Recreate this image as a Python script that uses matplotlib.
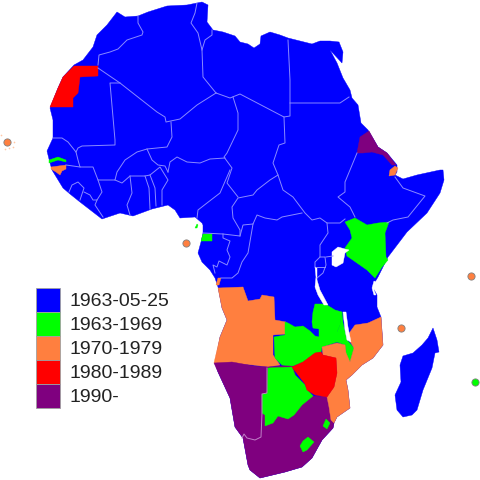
import matplotlib
matplotlib.use('Agg')
import matplotlib.pyplot as plt
from matplotlib.patches import Polygon, Rectangle

BLUE = '#0000ff'
GREEN = '#00ff00'
ORANGE = '#ff7f3f'
RED = '#ff0000'
PURPLE = '#7f007f'
BORDER = '#8a8aff'

# Outlines, in image pixels
continent = [(74, 65), (83, 60), (93, 47), (97, 35), (107, 25), (117, 12), (125, 17), (138, 16),
             (148, 12), (167, 6), (187, 5), (202, 2), (208, 5), (207, 22), (213, 30), (223, 32),
             (235, 36), (240, 42), (248, 44), (254, 48), (260, 44), (261, 36), (270, 32), (280, 35),
             (288, 38), (300, 41), (312, 44), (320, 41), (330, 41), (339, 42), (343, 52), (342, 63),
             (330, 50), (337, 63), (343, 78), (350, 90), (352, 98), (358, 105), (361, 123), (368, 130),
             (378, 147), (387, 153), (397, 165), (397, 172), (395, 175), (403, 179), (417, 175),
             (440, 170), (443, 170), (444, 180), (440, 193), (427, 213), (407, 232), (388, 257),
             (378, 277), (375, 282), (373, 288), (377, 295), (377, 307), (381, 317), (383, 345),
             (373, 358), (362, 365), (352, 375), (346, 380), (348, 390), (350, 408), (337, 417),
             (334, 423), (333, 428), (322, 440), (312, 458), (302, 467), (285, 472), (260, 478),
             (250, 470), (248, 465), (243, 438), (235, 427), (230, 398), (218, 372), (215, 363),
             (220, 337), (227, 320), (222, 308), (218, 287), (215, 278), (210, 270), (202, 262),
             (198, 253), (201, 242), (203, 233), (203, 225), (202, 223), (195, 217), (180, 218),
             (175, 210), (168, 205), (152, 209), (133, 216), (120, 213), (102, 219), (80, 202),
             (70, 194), (63, 188), (52, 170), (50, 163), (47, 151), (53, 138), (53, 120), (50, 108),
             (58, 88), (63, 77)]
madagascar = [(433, 328), (437, 340), (439, 352), (435, 353), (432, 368), (423, 390), (417, 410),
              (412, 415), (403, 417), (397, 410), (395, 395), (401, 382), (400, 365), (403, 356),
              (413, 353), (422, 345), (428, 338)]

western_sahara = [(74, 66), (98, 66), (98, 76), (80, 77), (78, 93), (73, 98), (73, 107), (50, 107),
                  (58, 88), (63, 77)]
eritrea = [(369, 131), (378, 147), (387, 153), (396, 165), (392, 165), (383, 155), (372, 152),
           (363, 153), (357, 153), (360, 137)]
djibouti = [(395, 166), (398, 168), (395, 175), (389, 176), (390, 170)]
gambia = [(49, 160), (58, 157), (66, 160), (66, 162), (58, 160), (49, 163)]
guinea_bissau = [(51, 167), (66, 165), (66, 169), (62, 171), (60, 175), (56, 172), (51, 169)]
eq_guinea = [(201, 241), (212, 241), (212, 234), (203, 234)]
bioko = [(195, 228), (197, 224), (198, 225), (197, 228)]
cabinda = [(216, 285), (218, 278), (221, 278), (219, 285)]
angola = [(218, 288), (243, 287), (248, 301), (260, 299), (262, 295), (274, 297), (275, 320),
          (286, 322), (286, 334), (273, 335), (273, 355), (280, 365), (268, 367), (253, 365),
          (240, 364), (214, 363), (220, 337), (227, 320), (222, 308)]
zambia = [(285, 322), (288, 323), (295, 327), (303, 326), (310, 331), (315, 336), (319, 337),
          (319, 329), (313, 328), (312, 322), (313, 312), (315, 304), (323, 304), (327, 305),
          (335, 310), (342, 312), (340, 325), (337, 332), (337, 342), (322, 347), (321, 352),
          (315, 353), (303, 362), (293, 366), (282, 365), (275, 358), (274, 337), (285, 335)]
malawi = [(342, 312), (343, 323), (347, 340), (354, 348), (352, 355), (350, 362), (346, 355),
          (345, 345), (337, 342), (337, 332), (340, 325)]
zimbabwe = [(292, 367), (303, 362), (315, 353), (321, 352), (323, 355), (336, 358), (337, 373),
            (334, 387), (327, 397), (315, 395), (307, 390), (305, 384)]
mozambique = [(381, 317), (368, 323), (355, 325), (350, 332), (348, 338), (354, 348), (350, 362),
              (346, 353), (345, 345), (337, 343), (322, 347), (323, 355), (336, 358), (337, 373),
              (334, 387), (327, 397), (329, 407), (331, 420), (334, 423), (337, 417), (350, 408),
              (348, 390), (346, 380), (352, 375), (362, 365), (373, 358), (383, 345)]
southern_purple = [(214, 363), (232, 362), (254, 366), (268, 367), (292, 365), (296, 376), (313, 396),
                   (327, 397), (330, 413), (331, 420), (334, 423), (333, 428), (322, 440), (312, 458),
                   (302, 467), (285, 472), (260, 478), (250, 470), (248, 465), (243, 438), (235, 427),
                   (230, 398), (218, 372)]
botswana = [(268, 368), (292, 367), (295, 375), (305, 385), (307, 390), (313, 396), (302, 405),
            (294, 415), (288, 419), (278, 416), (273, 423), (265, 426), (265, 415), (262, 413),
            (262, 394), (267, 393)]
swaziland = [(326, 419), (330, 423), (327, 429), (323, 426)]
lesotho = [(308, 437), (314, 442), (307, 450), (303, 452), (300, 446), (303, 441)]
kenya = [(345, 222), (355, 218), (367, 225), (378, 223), (389, 222), (385, 233), (386, 257),
         (388, 260), (382, 267), (375, 278), (367, 270), (347, 256), (345, 248), (352, 238), (350, 230)]

lake_victoria = [(332, 252), (338, 247), (345, 249), (349, 250), (345, 253), (343, 263), (336, 267),
                 (332, 265)]
lake_tanganyika = [(315, 267), (317, 268), (317, 280), (320, 290), (328, 305), (324, 305), (318, 295),
                   (315, 287), (316, 277)]
lake_malawi = [(343, 312), (346, 312), (348, 327), (351, 342), (347, 340), (345, 330)]
zanzibar_channel = [(374, 281), (376, 282), (374, 290), (376, 295), (374, 295), (372, 288)]

country_fills = [(western_sahara, RED), (eritrea, PURPLE), (djibouti, ORANGE), (gambia, GREEN),
                 (guinea_bissau, ORANGE), (eq_guinea, GREEN), (bioko, GREEN), (cabinda, ORANGE),
                 (angola, ORANGE), (southern_purple, PURPLE), (zambia, GREEN), (malawi, GREEN),
                 (mozambique, ORANGE), (botswana, GREEN), (zimbabwe, RED), (swaziland, GREEN),
                 (lesotho, GREEN), (kenya, GREEN)]

borders = [
    [(98, 65), (99, 55), (110, 52), (118, 49), (127, 40), (142, 35), (143, 32), (138, 23), (138, 16)],
    [(98, 68), (120, 83), (157, 112), (165, 117), (166, 122), (180, 119), (197, 105), (216, 93)],
    [(216, 93), (203, 77), (202, 50), (205, 40), (212, 35), (212, 30)],
    [(202, 50), (198, 33), (191, 23), (195, 13), (197, 3)],
    [(216, 93), (230, 98), (240, 94), (284, 117), (290, 116), (290, 80), (288, 40)],
    [(290, 103), (340, 103), (349, 97)],
    [(233, 97), (238, 113), (238, 130), (227, 153), (224, 157), (232, 168), (227, 183), (238, 197)],
    [(284, 117), (285, 143), (279, 145), (273, 163), (278, 175), (283, 190), (293, 197), (305, 213),
     (312, 220), (320, 218), (327, 223), (340, 223), (345, 219)],
    [(278, 175), (270, 180), (257, 190), (253, 195), (238, 198), (232, 207), (233, 218), (240, 230), (240, 236)],
    [(230, 170), (220, 193), (207, 203), (198, 210), (197, 218)],
    [(203, 233), (223, 234), (240, 236), (243, 225), (253, 224), (257, 215), (265, 218), (277, 220),
     (282, 217), (302, 213)],
    [(253, 224), (248, 253), (242, 262), (238, 273), (232, 278), (223, 278), (221, 278)],
    [(223, 234), (223, 238), (230, 241), (227, 250), (230, 257), (227, 265), (219, 261), (217, 267),
     (213, 265), (215, 273)],
    [(357, 153), (350, 170), (345, 182), (345, 192), (338, 197), (350, 207), (355, 217)],
    [(395, 177), (403, 188), (425, 196), (408, 217), (393, 220), (387, 223)],
    [(327, 223), (328, 233), (320, 245), (320, 257), (315, 262), (315, 267)],
    [(320, 257), (325, 257), (326, 265), (323, 273), (317, 278)],
    [(316, 267), (325, 267)],
    [(326, 257), (333, 256)],
    [(120, 83), (110, 83), (115, 140), (115, 145), (82, 146), (78, 148), (76, 152), (78, 160), (80, 167),
     (93, 167), (98, 180), (110, 180), (115, 180), (117, 172), (125, 160), (137, 152), (147, 149),
     (167, 147), (172, 137), (171, 122)],
    [(76, 152), (68, 142), (62, 138), (53, 138)],
    [(80, 167), (66, 165)],
    [(147, 149), (152, 160), (158, 165), (165, 166), (168, 172)],
    [(115, 180), (122, 183), (130, 176), (145, 176), (150, 175), (160, 167), (168, 180), (162, 190), (162, 205)],
    [(130, 176), (132, 193), (127, 205), (130, 215)],
    [(145, 176), (149, 188), (150, 209)],
    [(150, 175), (155, 188), (156, 206)],
    [(168, 172), (170, 162), (177, 157), (187, 162), (200, 163), (210, 159), (225, 158)],
    [(69, 192), (72, 185), (78, 182), (84, 188), (80, 200)],
    [(84, 192), (90, 195), (93, 200), (97, 200), (102, 192), (98, 180)],
    [(97, 200), (95, 205), (103, 217)],
]
pale_borders = [[(267, 368), (267, 393), (262, 394), (262, 413), (261, 437), (255, 440), (247, 438),
                 (244, 434), (242, 438)]]

# Island states as dots: x, y, colour
island_dots = [(6.7, 142, ORANGE), (185.5, 242.5, ORANGE), (470.7, 275.7, ORANGE),
               (400.7, 327.7, ORANGE), (475, 381.7, GREEN)]
cape_verde_specks = [(1, 135), (14, 142), (5, 149), (9, 148), (13, 147)]

legend_labels = ['1963-05-25', '1963-1969', '1970-1979', '1980-1989', '1990-']
legend_colors = [BLUE, GREEN, ORANGE, RED, PURPLE]

plt.rcParams['font.family'] = ['Liberation Sans', 'DejaVu Sans']

fig = plt.figure(figsize=(4.8, 4.8), dpi=100)
ax = fig.add_axes([0, 0, 1, 1])
ax.set_xlim(0, 480)
ax.set_ylim(480, 0)
ax.axis('off')

for shape in [continent, madagascar]:
    ax.add_patch(Polygon(shape, closed=True, facecolor=BLUE, edgecolor=BLUE, linewidth=0.3))

for line in borders:
    xs, ys = zip(*line)
    ax.plot(xs, ys, color=BORDER, linewidth=0.7, solid_joinstyle='round')

for shape, color in country_fills:
    ax.add_patch(Polygon(shape, closed=True, facecolor=color, edgecolor=color, linewidth=0.3))

for line in pale_borders:
    xs, ys = zip(*line)
    ax.plot(xs, ys, color='#c080c8', linewidth=0.7)

for shape in [lake_victoria, lake_tanganyika, lake_malawi, zanzibar_channel]:
    ax.add_patch(Polygon(shape, closed=True, facecolor='white', edgecolor='white', linewidth=0.3))

for x, y, color in island_dots:
    ax.plot(x, y, 'o', color=color, markersize=5.2, markeredgecolor='#808080', markeredgewidth=0.6)
for x, y in cape_verde_specks:
    ax.plot(x, y, 'o', color='#ffc8a8', markersize=1.2, markeredgewidth=0)

# Legend
for i, (label, color) in enumerate(zip(legend_labels, legend_colors)):
    ax.add_patch(Rectangle((36, 288 + 24 * i), 24, 24, facecolor=color, edgecolor='#a0a0a0', linewidth=0.6))
    ax.text(69.5, 301.5 + 24 * i, label, fontsize=14, color='#222222', va='center', ha='left')

fig.savefig('out.png', dpi=100)
